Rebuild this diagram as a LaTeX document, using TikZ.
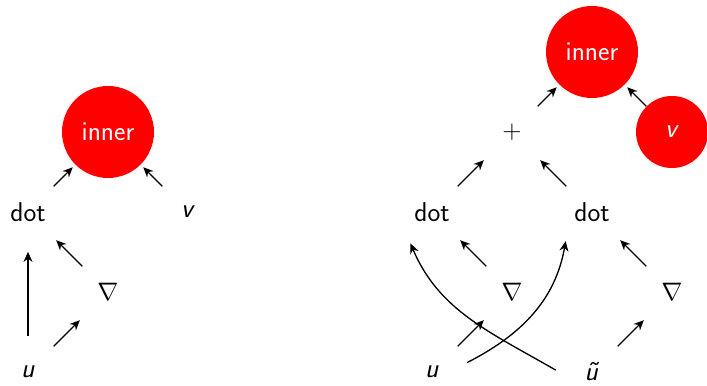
\documentclass[tikz,border=0pt]{standalone}
\usepackage{xcolor}
\usepackage{tikz}
\usetikzlibrary{arrows.meta,positioning}

\begin{document}
\begin{tikzpicture}[
    node distance=1.6cm and 1.6cm,
    on grid,
    var/.style={
      circle,
      minimum size=1.44cm,
      inner sep=1pt,
      font=\fontsize{15.5}{18}\selectfont\sffamily
    },
    opnode/.style={
      var,
      fill=red,
      text=white,
      minimum size=1.84cm
    },
    invar/.style={
      var,
      fill=red,
      text=white
    },
    flow/.style={-{Stealth[length=2mm,width=1.8mm]},line width=0.75pt,shorten >=2pt}
  ]
    \useasboundingbox (0,0) rectangle (14.14,7.7);
    % left graph
    \node[var] (u) at (0.56,0.26) {\textit{u}};
    \node[var,above right=of u] (grad) {$\nabla$};
    \node[var,above left=of grad] (dot) {dot};
    \node[opnode,above right=of dot] (inner) {inner};
    \node[var,below right=of inner] (v) {\textit{v}};
    \draw[flow] (u) -- (dot);
    \draw[flow] (u) -- (grad);
    \draw[flow] (grad) -- (dot);
    \draw[flow] (dot) -- (inner);
    \draw[flow] (v) -- (inner);
    % right graph
    \node[var] (ua) at (8.64,0.26) {\textit{u}};
    \node[var,above right=of ua] (grada) {$\nabla$};
    \node[var,above left=of grada] (dota) {dot};
    \node[var,above right=of dota] (plus) {$+$};
    \node[var,below right=of plus] (dotb) {dot};
    \node[var,below right=of dotb] (gradb) {$\nabla$};
    \node[var,below left=of gradb] (ut) {\textit{\~u}};
    \node[opnode,above right=of plus] (innerb) {inner};
    \node[invar,below right=of innerb] (vb) {\textit{v}};
    \draw[flow] (ua) -- (grada);
    \draw[flow] (grada) -- (dota);
    \draw[flow] (ut) -- (gradb);
    \draw[flow] (gradb) -- (dotb);
    \draw[flow] (ua.15) to[out=27,in=-100] (dotb.225);
    \draw[flow] (ut.177) to[out=150,in=-67] (dota.231);
    \draw[flow] (dota) -- (plus);
    \draw[flow] (dotb) -- (plus);
    \draw[flow] (plus) -- (innerb);
    \draw[flow] (vb) -- (innerb);
\end{tikzpicture}
\end{document}
